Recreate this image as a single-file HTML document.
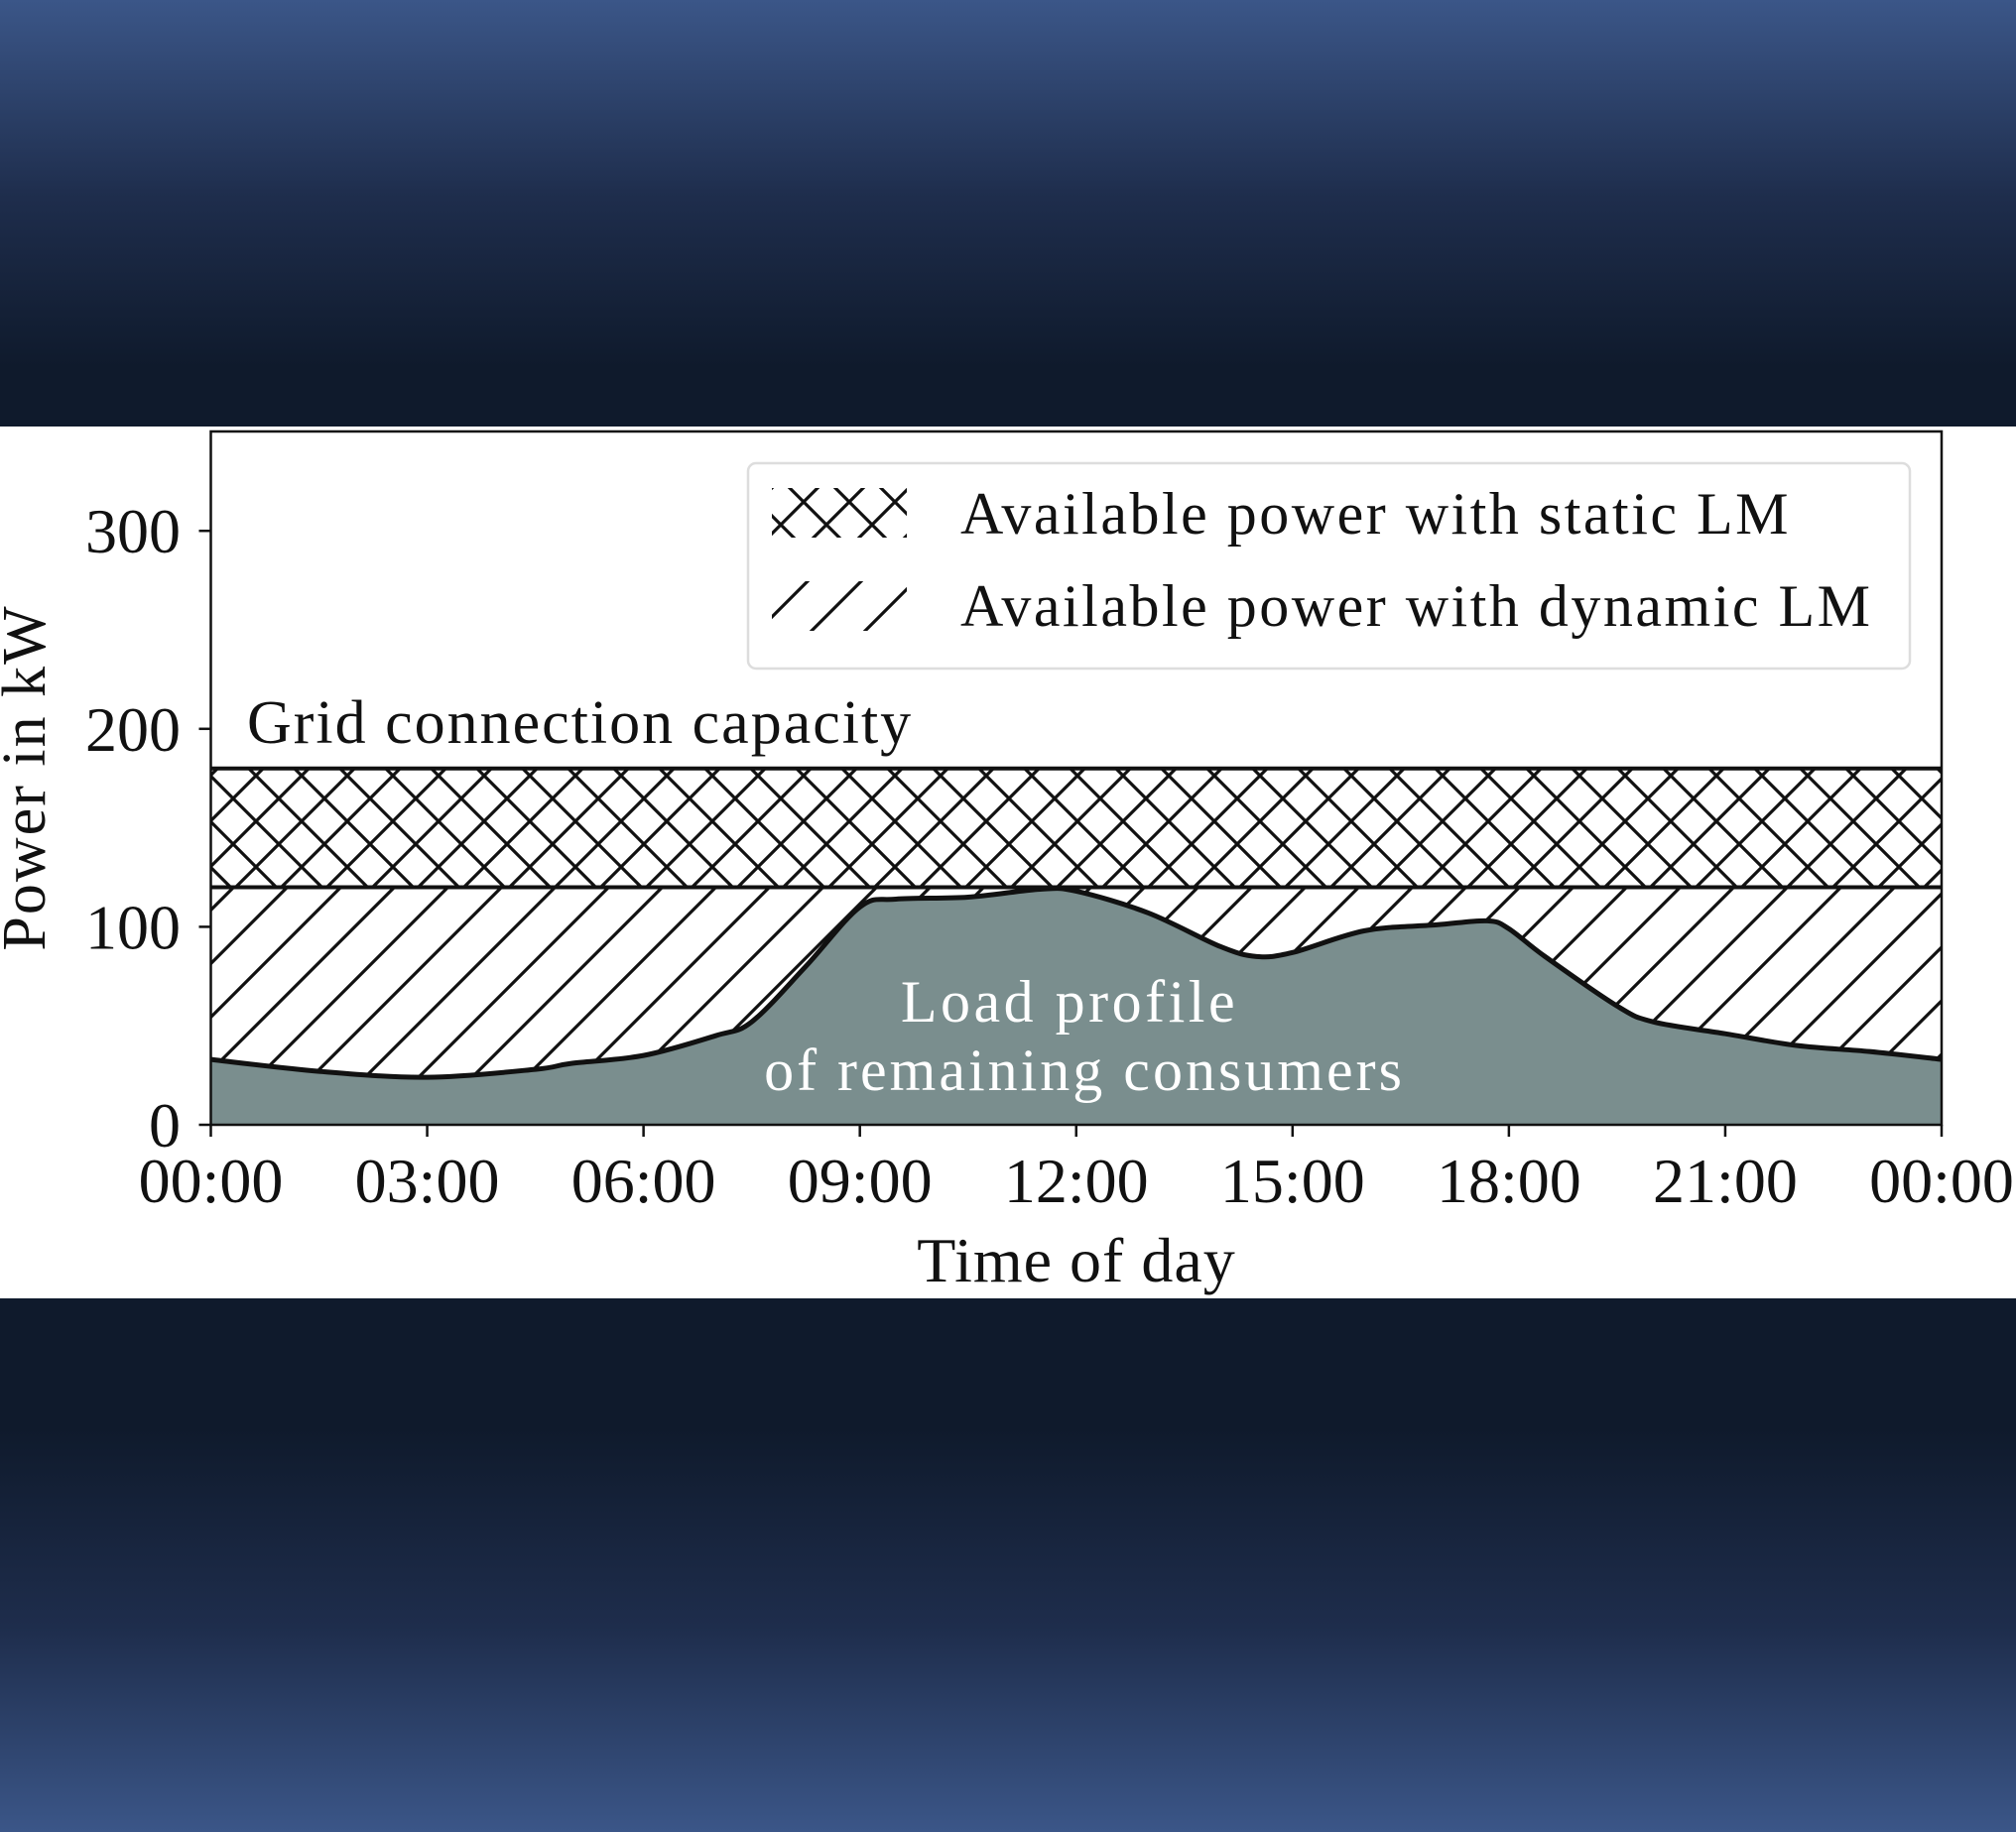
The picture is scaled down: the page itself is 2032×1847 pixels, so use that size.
<!DOCTYPE html>
<html><head><meta charset="utf-8"><style>
html,body{margin:0;padding:0;width:2032px;height:1847px;overflow:hidden;
background:linear-gradient(to bottom,#3b5688 0px,#1e2d4c 200px,#0f1a2c 370px,#0f1a2c 1440px,#1e2d4c 1640px,#3b5688 1847px);}
svg{position:absolute;left:0;top:0}
text{font-family:"Liberation Serif",serif;}
</style></head><body>
<svg id="chart" width="2032" height="1847" viewBox="0 0 2032 1847">
<defs>
<pattern id="xh" patternUnits="userSpaceOnUse" width="46" height="46" x="212" y="0">
<path d="M0,0L46,46M46,0L0,46" stroke="#111" stroke-width="3.2" fill="none"/>
</pattern>
<pattern id="dh" patternUnits="userSpaceOnUse" width="54" height="54" x="212" y="0">
<path d="M0,54L54,0M-27,27L27,-27M27,81L81,27" stroke="#111" stroke-width="3.2" fill="none"/>
</pattern>
</defs>
<rect x="0" y="430" width="2032" height="879" fill="#fff"/>
<g id="plot"></g>
</svg>
<script>
const hours=[0,1.5,3,4.5,5,6,7,7.5,8.25,9,9.5,10.5,11.5,12,13,14,14.5,15,16,17,17.7,18,18.5,19.5,20,21,22,23,24];
const load=[33,27,24,28,31,35,45,52,80,110,114,115,119,118,107,90,85,87,98,101,103,99,85,60,52,46,40,37,33];
const gridCapacity=180;
const staticLimit=120;
const yTicks=[0,100,200,300];
const xTickLabels=["00:00","03:00","06:00","09:00","12:00","15:00","18:00","21:00","00:00"];
const NS="http://www.w3.org/2000/svg";
const X0=212.5,X1=1957,YT=435,YB=1134;
const xs=h=>X0+(X1-X0)*h/24;
const ys=v=>YB-v*1.996;
const g=document.getElementById('plot');
function mk(tag,attrs,name,parent){const e=document.createElementNS(NS,tag);for(const k in attrs)e.setAttribute(k,attrs[k]);


(parent||g).appendChild(e);return e;}
const pts=hours.map((h,i)=>[xs(h),ys(load[i])]);
let d=`M${pts[0][0]},${pts[0][1]}`;
for(let i=0;i<pts.length-1;i++){const p0=pts[Math.max(0,i-1)],p1=pts[i],p2=pts[i+1],p3=pts[Math.min(pts.length-1,i+2)];
d+=`C${p1[0]+(p2[0]-p0[0])/6},${p1[1]+(p2[1]-p0[1])/6} ${p2[0]-(p3[0]-p1[0])/6},${p2[1]-(p3[1]-p1[1])/6} ${p2[0]},${p2[1]}`;}
mk('rect',{x:X0,y:ys(gridCapacity),width:X1-X0,height:ys(staticLimit)-ys(gridCapacity),fill:'url(#xh)'},'static-lm-area');
mk('rect',{x:X0,y:ys(staticLimit),width:X1-X0,height:YB-ys(staticLimit),fill:'url(#dh)'},'dynamic-lm-area');
mk('path',{d:d+`L${X1},${YB}L${X0},${YB}Z`,fill:'#7a8e8e'},'load-profile-area');
mk('path',{d:d,fill:'none',stroke:'#111','stroke-width':5},'load-profile-line');
mk('line',{x1:X0,x2:X1,y1:ys(gridCapacity),y2:ys(gridCapacity),stroke:'#111','stroke-width':4},'grid-capacity-line');
mk('line',{x1:X0,x2:X1,y1:ys(staticLimit),y2:ys(staticLimit),stroke:'#111','stroke-width':4},'static-limit-line');
mk('rect',{x:X0,y:YT,width:X1-X0,height:YB-YT,fill:'none',stroke:'#111','stroke-width':2.5},'plot-frame');
yTicks.forEach(v=>{mk('line',{x1:X0-12,x2:X0,y1:ys(v),y2:ys(v),stroke:'#111','stroke-width':2.5},'y-tick');
const t=mk('text',{x:182,y:ys(v)+22,'text-anchor':'end','font-size':64,fill:'#111'},'y-tick-label');t.textContent=v;});
xTickLabels.forEach((l,i)=>{const x=xs(i*3);mk('line',{x1:x,x2:x,y1:YB,y2:YB+12,stroke:'#111','stroke-width':2.5},'x-tick');
const t=mk('text',{x:x,y:1212,'text-anchor':'middle','font-size':64,fill:'#111'},'x-tick-label');t.textContent=l;});
let t=mk('text',{x:1085,y:1292,'text-anchor':'middle','font-size':64,fill:'#111','letter-spacing':1},'x-axis-title');t.textContent='Time of day';
t=mk('text',{x:0,y:0,transform:'translate(45,784) rotate(-90)','text-anchor':'middle','font-size':62,fill:'#111','letter-spacing':2},'y-axis-title');t.textContent='Power in kW';
t=mk('text',{x:249,y:749,'font-size':62,fill:'#111','letter-spacing':2},'grid-capacity-label');t.textContent='Grid connection capacity';
t=mk('text',{x:1078,y:1030,'text-anchor':'middle','font-size':60,fill:'#fff','letter-spacing':3.5},'load-label-line1');t.textContent='Load profile';
t=mk('text',{x:1093,y:1099,'text-anchor':'middle','font-size':60,fill:'#fff','letter-spacing':3},'load-label-line2');t.textContent='of remaining consumers';
const lg=mk('g',{},'legend');
mk('rect',{x:754,y:467,width:1171,height:207,rx:8,fill:'#fff',stroke:'#ddd','stroke-width':2.5},'legend-box',lg);
mk('rect',{x:778,y:492,width:136,height:50,fill:'url(#xh)'},'legend-static-swatch',lg);
mk('rect',{x:778,y:586,width:136,height:50,fill:'url(#dh)'},'legend-dynamic-swatch',lg);
t=mk('text',{x:968,y:538,'font-size':60,fill:'#111','letter-spacing':2.5},'legend-static-label',lg);t.textContent='Available power with static LM';
t=mk('text',{x:968,y:631,'font-size':60,fill:'#111','letter-spacing':2.5},'legend-dynamic-label',lg);t.textContent='Available power with dynamic LM';
</script>
</body></html>
